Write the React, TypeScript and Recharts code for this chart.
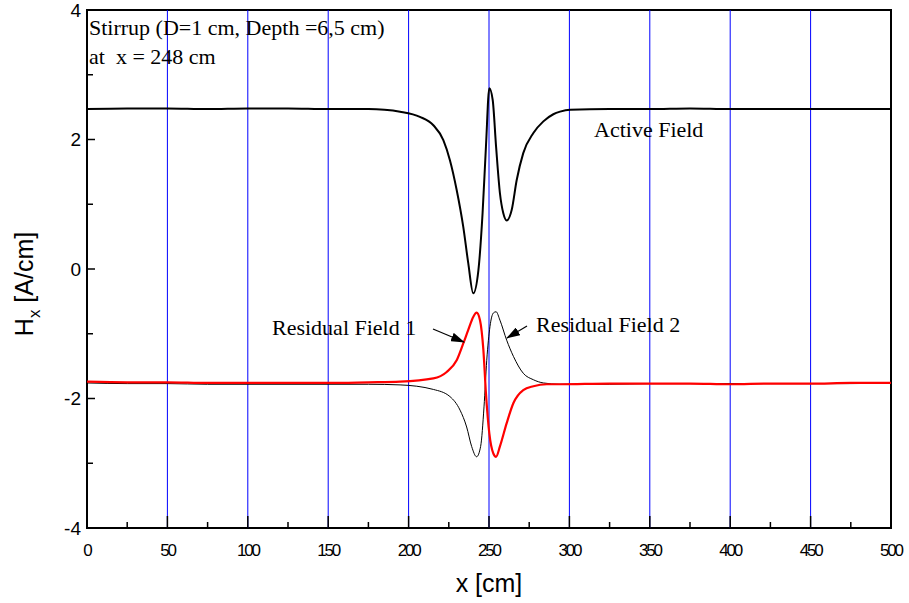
import React from 'react'
import {
  LineChart,
  Line,
  XAxis,
  YAxis,
  ReferenceLine,
  ReferenceArea,
} from 'recharts'

// Active field (black, thick)
const activeX = [0, 25, 50, 75, 100, 125, 150, 175, 185, 194.7, 207, 215.4, 221.6, 225.7, 229.9, 234, 237.1, 240.2, 243.4, 246, 248.1, 250.2, 252.3, 254.4, 256.8, 258.9, 261, 264.1, 267.2, 271.3, 277.6, 283.8, 290, 294.2, 300.4, 325, 350, 375, 400, 425, 450, 475, 500]
const activeY = [2.47, 2.48, 2.48, 2.47, 2.48, 2.48, 2.47, 2.47, 2.46, 2.43, 2.35, 2.22, 1.99, 1.68, 1.22, 0.65, 0.09, -0.375, -0.02, 0.86, 1.89, 2.79, 2.61, 1.89, 1.17, 0.86, 0.75, 0.91, 1.37, 1.79, 2.1, 2.28, 2.39, 2.43, 2.46, 2.47, 2.47, 2.48, 2.47, 2.47, 2.47, 2.47, 2.47]

// Residual field 1 (red)
const res1X = [0, 25, 50, 75, 100, 125, 150, 175, 194.7, 215.4, 223.7, 229.9, 234, 237.1, 240.2, 242.3, 244.4, 246.5, 248.1, 250.2, 252.7, 254.4, 256.8, 261, 265.2, 271.3, 277.6, 285.9, 294.2, 325, 350, 375, 400, 425, 450, 475, 500]
const res1Y = [-1.74, -1.75, -1.75, -1.76, -1.76, -1.76, -1.76, -1.75, -1.74, -1.69, -1.59, -1.41, -1.15, -0.94, -0.74, -0.675, -0.79, -1.25, -1.92, -2.54, -2.85, -2.9, -2.74, -2.38, -2.07, -1.87, -1.81, -1.78, -1.78, -1.77, -1.77, -1.77, -1.78, -1.77, -1.77, -1.76, -1.76]

// Residual field 2 (black, thin)
const res2X = [0, 25, 50, 75, 100, 125, 150, 175, 194.7, 215.4, 225.7, 232, 236.1, 239.2, 242.3, 244.8, 246.9, 248.6, 250.6, 252.7, 254.4, 256.8, 261, 265.2, 271.3, 277.6, 283.8, 294.2, 325, 350, 375, 400, 425, 450, 475, 500]
const res2Y = [-1.76, -1.77, -1.77, -1.78, -1.78, -1.78, -1.78, -1.78, -1.79, -1.86, -1.97, -2.18, -2.44, -2.74, -2.9, -2.74, -2.13, -1.41, -0.89, -0.68, -0.66, -0.79, -1.1, -1.35, -1.61, -1.71, -1.76, -1.78, -1.78, -1.77, -1.77, -1.77, -1.77, -1.77, -1.77, -1.76, -1.76]

const xTicks = [0, 25, 50, 75, 100, 125, 150, 175, 200, 225, 250, 275, 300, 325, 350, 375, 400, 425, 450, 475, 500]
const yTicks = [-4, -3, -2, -1, 0, 1, 2, 3, 4]
const gridX = [50, 100, 150, 200, 250, 300, 350, 400, 450]

const toPoints = (xs: number[], ys: number[]) => xs.map((x, i) => ({ x, y: ys[i] }))

const activeData = toPoints(activeX, activeY)
const res1Data = toPoints(res1X, res1Y)
const res2Data = toPoints(res2X, res2Y)

const sans = "'Liberation Sans', Arial, sans-serif"
const serif = "'Liberation Serif', 'Times New Roman', serif"

const XTick = (props: any) => {
  const { x, y, payload } = props
  const major = payload.value % 50 === 0
  return (
    <g>
      <line x1={x} x2={x} y1={y} y2={y - (major ? 12 : 6)} stroke="#000" strokeWidth={1.5} />
      {major && (
        <text x={x} y={y + 28} textAnchor="middle" fontFamily={sans} fontSize={17} letterSpacing={-2.2} fill="#000">
          {payload.value}
        </text>
      )}
    </g>
  )
}

const YTick = (props: any) => {
  const { x, y, payload } = props
  const major = payload.value % 2 === 0
  return (
    <g>
      <line x1={x} x2={x + (major ? 8 : 6)} y1={y} y2={y} stroke="#000" strokeWidth={1.5} />
      {major && (
        <text x={x - 6} y={y} dy="0.35em" textAnchor="end" fontFamily={sans} fontSize={19} fill="#000">
          {payload.value}
        </text>
      )}
    </g>
  )
}

export default function App() {
  return (
    <div style={{ position: 'absolute', left: 0, top: 0, width: 909, height: 603, background: '#fff' }}>
      <LineChart width={909} height={603} margin={{ top: 10, right: 18, bottom: 45, left: 27 }}>
        <XAxis
          type="number"
          dataKey="x"
          domain={[0, 500]}
          ticks={xTicks}
          interval={0}
          tickSize={0}
          tickMargin={0}
          tick={<XTick />}
          axisLine={false}
          height={30}
          allowDataOverflow
        />
        <YAxis
          type="number"
          dataKey="y"
          domain={[-4, 4]}
          ticks={yTicks}
          interval={0}
          tickSize={0}
          tickMargin={0}
          tick={<YTick />}
          axisLine={false}
          width={60}
          allowDataOverflow
        />
        {gridX.map((gx) => (
          <ReferenceLine key={gx} x={gx} stroke="#0000ff" strokeWidth={1} />
        ))}
        <Line data={res2Data} dataKey="y" stroke="#000" strokeWidth={1} dot={false} isAnimationActive={false} type="monotone" />
        <Line data={res1Data} dataKey="y" stroke="#ff0000" strokeWidth={2.2} dot={false} isAnimationActive={false} type="monotone" />
        <Line data={activeData} dataKey="y" stroke="#000" strokeWidth={2} dot={false} isAnimationActive={false} type="monotone" />
        <ReferenceArea x1={0} x2={500} y1={-4} y2={4} fill="none" stroke="#000" strokeWidth={2} />
      </LineChart>
      <svg width={909} height={603} style={{ position: 'absolute', left: 0, top: 0, pointerEvents: 'none' }}>
        <defs>
          <marker id="arr" markerWidth="14" markerHeight="9" refX="13" refY="4.5" orient="auto" markerUnits="userSpaceOnUse">
            <path d="M0,0 L14,4.5 L0,9 Z" fill="#000" />
          </marker>
        </defs>
        <text x={89} y={35} fontFamily={serif} fontSize={22} fill="#000">Stirrup (D=1 cm, Depth =6,5 cm)</text>
        <text x={89} y={64} fontFamily={serif} fontSize={22} fill="#000" style={{ whiteSpace: 'pre' }}>at  x = 248 cm</text>
        <text x={594} y={137} fontFamily={serif} fontSize={22} fill="#000">Active Field</text>
        <text x={272} y={335} fontFamily={serif} fontSize={22} fill="#000">Residual Field 1</text>
        <text x={536} y={332} fontFamily={serif} fontSize={22} fill="#000">Residual Field 2</text>
        <line x1={433} y1={329} x2={464} y2={342} stroke="#000" strokeWidth={1.2} markerEnd="url(#arr)" />
        <line x1={527} y1={326} x2={507} y2={338} stroke="#000" strokeWidth={1.2} markerEnd="url(#arr)" />
        <text x={489} y={592} textAnchor="middle" fontFamily={sans} fontSize={25} fill="#000">x [cm]</text>
        <text transform="translate(33,284) rotate(-90)" textAnchor="middle" fontFamily={sans} fontSize={25} fill="#000">
          H<tspan fontSize={17} dy={7}>x</tspan><tspan dy={-7}> [A/cm]</tspan>
        </text>
      </svg>
    </div>
  )
}
